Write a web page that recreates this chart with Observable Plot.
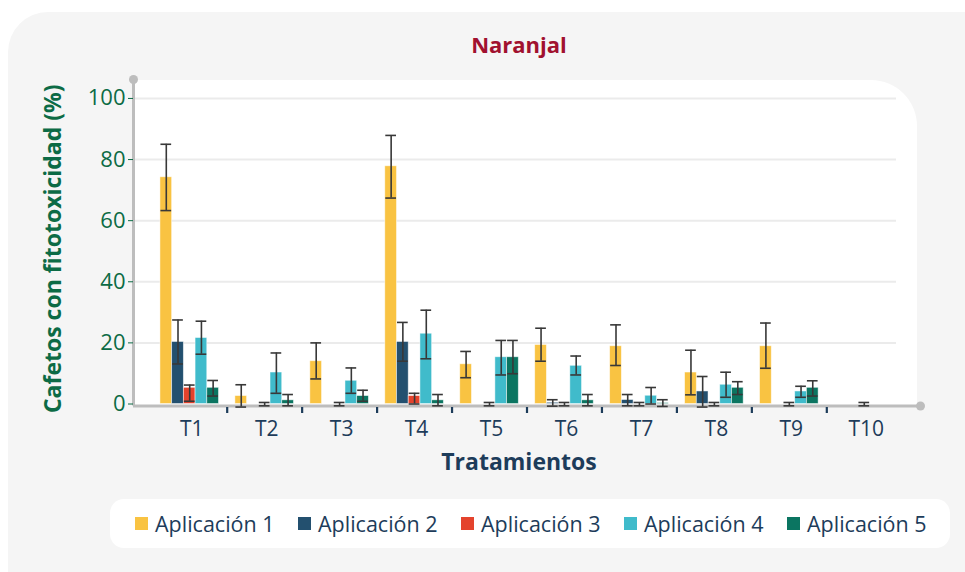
<!DOCTYPE html>
<html>
<head>
<meta charset="utf-8">
<script src="https://cdn.jsdelivr.net/npm/d3@7"></script>
<script src="https://cdn.jsdelivr.net/npm/@observablehq/plot@0.6"></script>
<style>
  html, body { margin: 0; padding: 0; background: #ffffff; }
  body { width: 965px; height: 572px; position: relative; overflow: hidden; font-family: "Open Sans", sans-serif; }
  #panel { position: absolute; left: 8px; top: 12px; width: 1000px; height: 620px; background: #f5f5f5; border-radius: 40px; }
  #plotbg { position: absolute; left: 133px; top: 80px; width: 784px; height: 326px; background: #ffffff; border-top-right-radius: 46px; }
  #title { position: absolute; left: 133px; width: 772px; top: 29px; text-align: center; font-weight: 700; font-size: 22px; color: #a1112f; }
  .layer { position: absolute; left: 0; top: 0; }
  #legend { position: absolute; left: 110px; top: 499px; width: 840px; height: 49px; background: #ffffff; border-radius: 14px; display: flex; align-items: center; padding-left: 25px; box-sizing: border-box; }
  .item { width: 164px; display: flex; align-items: center; font-size: 21.5px; color: #1d3c5a; white-space: nowrap; }
  .sw { width: 13px; height: 13px; margin-right: 7px; flex: none; }
</style>
</head>
<body>
<div id="panel"></div>
<div id="plotbg"></div>
<div id="title">Naranjal</div>
<div id="axes" class="layer"></div>
<div id="bars" class="layer"></div>
<div id="legend"></div>
<script>
// ---- Data ----
const treatments = ["T1", "T2", "T3", "T4", "T5", "T6", "T7", "T8", "T9", "T10"];
const apps = ["Aplicación 1", "Aplicación 2", "Aplicación 3", "Aplicación 4", "Aplicación 5"];
const colors = ["#f9c342", "#23506f", "#e4432d", "#40bbcb", "#0b7561"];
const yTicks = [0, 20, 40, 60, 80, 100];

// each entry: [value, lower error, upper error]; null = no bar
const app1 = [[74.2, 63.3, 85.0], [2.6, -1.0, 6.3], [14.0, 8.2, 20.0], [77.8, 67.4, 87.9], [13.0, 8.6, 17.2],
              [19.3, 14.0, 24.8], [18.9, 12.6, 25.9], [10.3, 3.0, 17.6], [18.9, 11.7, 26.5], null];
const app2 = [[20.3, 13.1, 27.5], null, null, [20.3, 14.0, 26.7], null,
              [0.4, -0.7, 1.4], [1.3, -0.6, 3.1], [4.1, -1.0, 9.0], null, null];
const app3 = [[5.3, 0.9, 6.2], [0, -0.6, 0.5], [0, -0.6, 0.5], [2.6, 0.0, 3.5], [0, -0.6, 0.5],
              [0, -0.6, 0.5], [0, -0.6, 0.5], [0, -0.6, 0.5], [0, -0.6, 0.5], [0, -0.6, 0.5]];
const app4 = [[21.6, 16.3, 27.1], [10.3, 3.5, 16.7], [7.6, 3.5, 11.8], [23.0, 14.8, 30.7], [15.3, 9.5, 20.8],
              [12.5, 9.5, 15.7], [2.7, 0.0, 5.4], [6.3, 2.2, 10.4], [4.1, 2.2, 5.8], null];
const app5 = [[5.3, 2.6, 7.7], [1.2, -0.6, 3.1], [2.6, 0.9, 4.5], [1.2, -0.6, 3.1], [15.3, 9.9, 20.8],
              [1.2, -0.6, 3.1], [0.3, -0.8, 1.4], [5.3, 3.1, 7.3], [5.3, 2.6, 7.6], null];

const series = [app1, app2, app3, app4, app5];
const rows = [];
series.forEach((s, j) => s.forEach((d, i) => {
  if (d) rows.push({t: treatments[i], a: apps[j], v: d[0], lo: d[1], hi: d[2]});
}));

// ---- Layout ----
const W = 965, H = 480, mL = 133, mR = 45, mT = 79, mB = 76.5;
const yMax = 106.2;
const fxPadOuter = 0.25;
const fxStep = (W - mL - mR) / (treatments.length + 2 * fxPadOuter);
const green = "#0c6b45", navy = "#1d3c5a", axisGray = "#bdbdbd", errColor = "#383838";
const base = {
  width: W, height: H,
  marginLeft: mL, marginRight: mR, marginTop: mT, marginBottom: mB,
  style: {background: "transparent", fontFamily: "Open Sans, sans-serif"},
  y: {domain: [0, yMax], axis: null}
};

// Layer 1: grid, axis lines, y axis, axis titles
const axes = Plot.plot({
  ...base,
  marks: [
    Plot.ruleY(yTicks.slice(1), {y: d => d, stroke: "#ebebeb", strokeWidth: 2, insetRight: 24}),
    Plot.ruleY([0], {y: d => d, stroke: axisGray, strokeWidth: 3, dy: 2}),
    Plot.frame({anchor: "left", stroke: axisGray, strokeWidth: 3}),
    Plot.axisY({ticks: yTicks, tickSize: 5, tickPadding: 3, fontSize: 22, color: green}),
    Plot.dot([yMax], {y: d => d, frameAnchor: "left", r: 4.5, fill: axisGray}),
    Plot.dot([0], {y: d => d, frameAnchor: "right", dy: 2, r: 4.5, fill: axisGray}),
    Plot.text(["Tratamientos"], {frameAnchor: "bottom", lineAnchor: "middle", dy: 59, dx: -8, fontSize: 23, fontWeight: 700, fill: navy}),
    Plot.text(["Cafetos con fitotoxicidad (%)"], {frameAnchor: "left", textAnchor: "middle", lineAnchor: "middle", rotate: -90, dx: -80, dy: 7, fontSize: 23, fontWeight: 700, fill: green})
  ]
});
document.getElementById("axes").appendChild(axes);

// Layer 2: grouped bars with error bars, treatment axis
const bars = Plot.plot({
  ...base,
  fx: {domain: treatments, paddingInner: 0, paddingOuter: fxPadOuter, round: false, axis: null},
  x: {domain: apps, paddingInner: 0, paddingOuter: 0.7, round: false, axis: null},
  color: {domain: apps, range: colors},
  marks: [
    Plot.barY(rows.filter(d => d.v > 0), {fx: "t", x: "a", y: "v", fill: "a", stroke: "white", strokeOpacity: 0.6, strokeWidth: 0.8}),
    Plot.ruleX(rows, {fx: "t", x: "a", y1: "lo", y2: "hi", stroke: errColor, strokeWidth: 1.6}),
    Plot.tickY(rows, {fx: "t", x: "a", y: "lo", stroke: errColor, strokeWidth: 1.6, insetLeft: 0.5, insetRight: 0.5}),
    Plot.tickY(rows, {fx: "t", x: "a", y: "hi", stroke: errColor, strokeWidth: 1.6, insetLeft: 0.5, insetRight: 0.5}),
    Plot.axisFx({anchor: "bottom", label: null, ticks: treatments.slice(1), tickSize: 6, tickFormat: () => "", stroke: navy, strokeWidth: 2.2, dx: -fxStep / 2, dy: 3.5}),
    Plot.axisFx({anchor: "bottom", label: null, tickSize: 0, tickPadding: 17, fontSize: 21, color: navy, dx: 2})
  ]
});
document.getElementById("bars").appendChild(bars);

// ---- Legend ----
const legend = document.getElementById("legend");
apps.forEach((a, i) => {
  const item = document.createElement("div");
  item.className = "item";
  const sw = document.createElement("span");
  sw.className = "sw";
  sw.style.background = colors[i];
  const label = document.createElement("span");
  label.textContent = a;
  item.appendChild(sw);
  item.appendChild(label);
  legend.appendChild(item);
});
</script>
</body>
</html>
